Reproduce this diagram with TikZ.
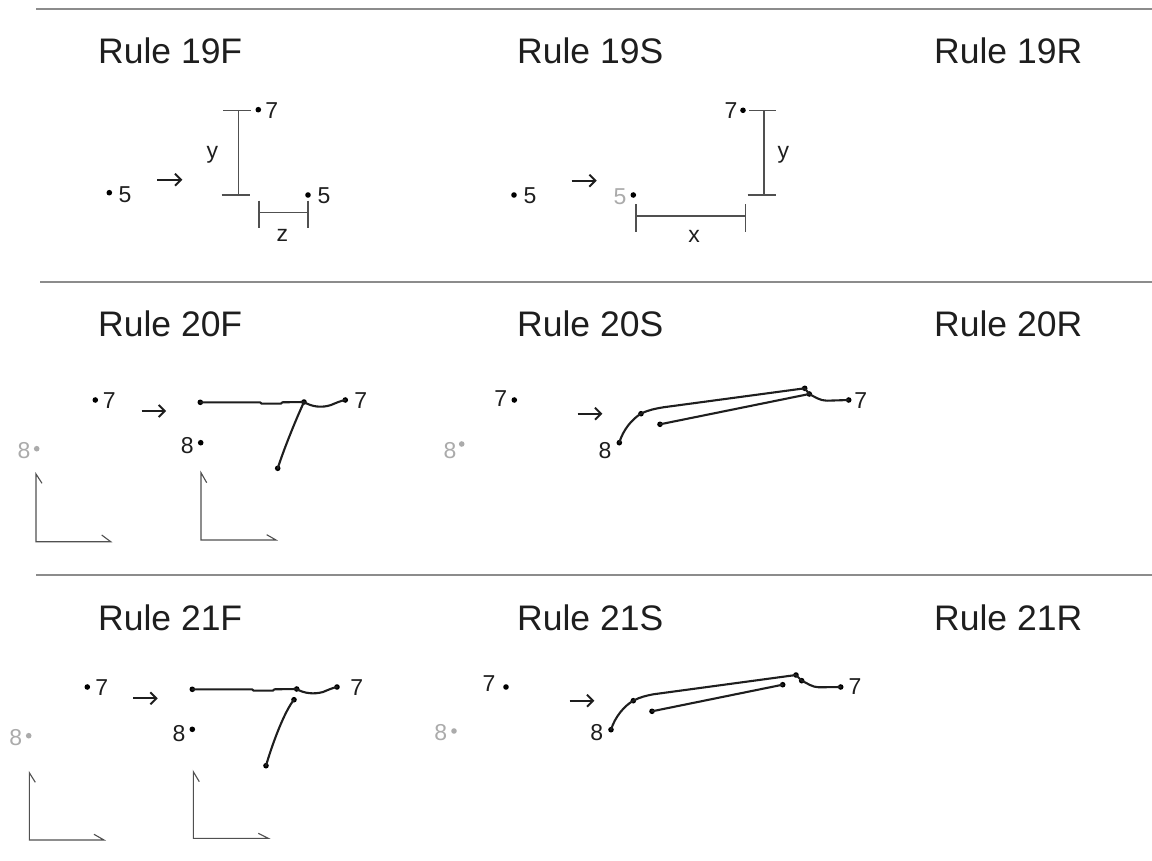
\documentclass[tikz,border=0pt]{standalone}
\usepackage{fontspec}
\setmainfont{Liberation Sans}
\usetikzlibrary{arrows.meta}
\definecolor{ink}{HTML}{1E1E1E}
\definecolor{rulegrey}{HTML}{8C8C8C}
\definecolor{thin}{HTML}{505050}
\definecolor{ghost}{HTML}{ABABAB}
\tikzset{
  title/.style={anchor=base west,inner sep=0,text=ink,font=\fontsize{35.5}{38}\selectfont},
  lab/.style={inner sep=0,text=ink,font=\fontsize{23}{25}\selectfont},
  ghostlab/.style={inner sep=0,text=ghost,font=\fontsize{23}{25}\selectfont},
  pt/.style={circle,fill=black,inner sep=0,minimum size=5.6pt},
  ghostpt/.style={circle,fill=ghost,inner sep=0,minimum size=5.6pt},
  sep/.style={draw=rulegrey,line width=1.4pt},
  bar/.style={draw=thin,line width=1.2pt},
  axis/.style={draw=thin,line width=1.1pt},
  move/.style={draw=ink,line width=1.9pt,-{Straight Barb[length=6pt,width=12pt,line width=1.9pt]}},
  stroke/.style={draw=ink,line width=2.1pt,line cap=round,line join=round},
}
\begin{document}
\begin{tikzpicture}[x=1pt,y=-1pt]
\useasboundingbox (0,0) rectangle (1152,861);
\fill[white] (0,0) rectangle (1152,861);
% separators
\coordinate (s1a) at (36,9); \coordinate (s1b) at (1152,9);
\coordinate (s2a) at (40,282); \coordinate (s2b) at (1152,282);
\coordinate (s3a) at (36,575); \coordinate (s3b) at (1152,575);
\draw[sep] (s1a) -- (s1b);
\draw[sep] (s2a) -- (s2b);
\draw[sep] (s3a) -- (s3b);
% titles
\node[title] (t19f) at (98,63.5) {Rule 19F};
\node[title] (t19s) at (517,63.5) {Rule 19S};
\node[title] (t19r) at (934,63.5) {Rule 19R};
\node[title] (t20f) at (98,336) {Rule 20F};
\node[title] (t20s) at (517,336) {Rule 20S};
\node[title] (t20r) at (934,336) {Rule 20R};
\node[title] (t21f) at (98,630) {Rule 21F};
\node[title] (t21s) at (517,630) {Rule 21S};
\node[title] (t21r) at (934,630) {Rule 21R};

% ---- Rule 19F
\node[pt] (a5d) at (109.3,192.7) {}; \node[lab] (a5) at (125,195) {5};
\coordinate (aa1) at (157.3,179.7); \coordinate (aa2) at (182.3,179.7);
\draw[move] (aa1) -- (aa2);
\coordinate (ay1a) at (223.3,110.3); \coordinate (ay1b) at (251,110.3);
\coordinate (ay2a) at (221.7,195); \coordinate (ay2b) at (250,195);
\coordinate (ayt) at (238.7,110.3); \coordinate (ayb) at (238.7,195);
\draw[bar] (ay1a) -- (ay1b);
\draw[bar] (ay2a) -- (ay2b);
\draw[bar] (ayt) -- (ayb);
\node[lab] (ay) at (212.3,155) {y};
\node[pt] (a7d) at (258.3,109.7) {}; \node[lab] (a7) at (271.7,111) {7};
\node[pt] (a5e) at (308,195) {}; \node[lab] (a5r) at (324,196) {5};
\coordinate (az1) at (259,212.7); \coordinate (az2) at (308,212.7);
\coordinate (az1t) at (259,200.7); \coordinate (az1b) at (259,228.3);
\coordinate (az2t) at (308,200.7); \coordinate (az2b) at (308,228.3);
\draw[bar] (az1) -- (az2);
\draw[bar] (az1t) -- (az1b);
\draw[bar] (az2t) -- (az2b);
\node[lab] (az) at (282.3,235) {z};

% ---- Rule 19S
\node[pt] (b5d) at (514,195) {}; \node[lab] (b5) at (530,196) {5};
\coordinate (ba1) at (571.7,180.7); \coordinate (ba2) at (596.7,180.7);
\draw[move] (ba1) -- (ba2);
\node[ghostlab] (b5g) at (620,196.7) {5}; \node[pt] (b5e) at (633.3,195) {};
\coordinate (bx1) at (636,216); \coordinate (bx2) at (745.3,216);
\coordinate (bx1t) at (636,204.3); \coordinate (bx1b) at (636,232.3);
\coordinate (bx2t) at (745.3,204.3); \coordinate (bx2b) at (745.3,232.3);
\draw[bar] (bx1) -- (bx2);
\draw[bar] (bx1t) -- (bx1b);
\draw[bar] (bx2t) -- (bx2b);
\node[lab] (bx) at (694,236) {x};
\node[lab] (b7) at (731,110.7) {7}; \node[pt] (b7d) at (743,110.3) {};
\coordinate (by1a) at (749.3,110.5); \coordinate (by1b) at (776,110.5);
\coordinate (by2a) at (747.7,195); \coordinate (by2b) at (775.7,195);
\coordinate (byt) at (764,110.5); \coordinate (byb) at (764,195);
\draw[bar] (by1a) -- (by1b);
\draw[bar] (by2a) -- (by2b);
\draw[bar] (byt) -- (byb);
\node[lab] (by) at (783.3,155) {y};

% ---- Rule 20F
\node[pt] (c7d) at (95.3,400) {}; \node[lab] (c7) at (109.3,401) {7};
\coordinate (ca1) at (141.7,411); \coordinate (ca2) at (166,411);
\draw[move] (ca1) -- (ca2);
\node[ghostlab] (c8g) at (24,450.7) {8}; \node[ghostpt] (c8gd) at (36.7,448.7) {};
\coordinate (cx1o) at (36,541.7); \coordinate (cx1t) at (36,474); \coordinate (cx1r) at (110.7,541.7);
\coordinate (cx1tb) at (42,483.3); \coordinate (cx1rb) at (101.7,535);
\draw[axis] (cx1tb) -- (cx1t) -- (cx1o) -- (cx1r) -- (cx1rb);
\coordinate (cx2o) at (201,540); \coordinate (cx2t) at (201,472.7); \coordinate (cx2r) at (276,540);
\coordinate (cx2tb) at (206.7,482.7); \coordinate (cx2rb) at (266.7,534.7);
\draw[axis] (cx2tb) -- (cx2t) -- (cx2o) -- (cx2r) -- (cx2rb);
\node[pt] (cl) at (200.3,402.3) {};
\node[pt] (cm) at (304,402) {};
\node[pt] (cr) at (345.3,400) {};
\node[pt] (cb) at (277.7,468.3) {};
\node[pt] (c8d) at (200.7,442.7) {};
\node[lab] (c8) at (187.3,446) {8};
\node[lab] (c7r) at (360.7,401) {7};
\draw[stroke] (cl.center) -- (260,402.3) -- (261.5,403.6) -- (281,403.6) -- (282.5,402.3) -- (cm.center)
  .. controls (312,407) and (322,408) .. (331,405) .. controls (336,403) and (340,401) .. (cr.center);
\draw[stroke] (cm.center) .. controls (297,417) and (285,446) .. (cb.center);

% ---- Rule 20S
\node[lab] (d7) at (500.7,398.5) {7}; \node[pt] (d7d) at (514.3,400) {};
\node[ghostlab] (d8g) at (450,451) {8}; \node[ghostpt] (d8gd) at (461.7,444) {};
\coordinate (da1) at (577.7,413.7); \coordinate (da2) at (602.3,413.7);
\draw[move] (da1) -- (da2);
\node[lab] (d8) at (605,450.7) {8};
\node[pt] (d8d) at (619.3,442.7) {};
\node[pt] (dk) at (641,413.7) {};
\node[pt] (dt) at (804.7,388.3) {};
\node[pt] (dj) at (809.3,394) {};
\node[pt] (ds) at (660,424.3) {};
\node[pt] (dr) at (848.7,400) {};
\node[lab] (d7r) at (860.7,401) {7};
\draw[stroke] (d8d.center) .. controls (623,430) and (632,419) .. (dk.center)
  .. controls (648,410) and (656,408.5) .. (663.3,407.3) -- (dt.center) -- (dj.center);
\draw[stroke] (ds.center) -- (dj.center)
  .. controls (815,397) and (820,400.7) .. (827,400.7) -- (dr.center);

% ---- Rule 21F
\node[pt] (e7d) at (87.3,687) {}; \node[lab] (e7) at (101.7,687.7) {7};
\coordinate (ea1) at (133.3,698.3); \coordinate (ea2) at (157.7,698.3);
\draw[move] (ea1) -- (ea2);
\node[ghostlab] (e8g) at (15.7,737.7) {8}; \node[ghostpt] (e8gd) at (28.7,735.7) {};
\coordinate (ex1o) at (29.3,840); \coordinate (ex1t) at (29.3,772.7); \coordinate (ex1r) at (104,840);
\coordinate (ex1tb) at (35.3,782.3); \coordinate (ex1rb) at (94,834.3);
\draw[axis] (ex1tb) -- (ex1t) -- (ex1o) -- (ex1r) -- (ex1rb);
\coordinate (ex2o) at (193.3,838.3); \coordinate (ex2t) at (193.3,771.7); \coordinate (ex2r) at (268.3,838.3);
\coordinate (ex2tb) at (199.3,781.7); \coordinate (ex2rb) at (258.3,833.3);
\draw[axis] (ex2tb) -- (ex2t) -- (ex2o) -- (ex2r) -- (ex2rb);
\node[pt] (el) at (192.3,689.3) {};
\node[pt] (em) at (296.7,689) {};
\node[pt] (er) at (337,687) {};
\node[pt] (eu) at (294,699.7) {};
\node[pt] (eb) at (266,765.7) {};
\node[pt] (e8d) at (192.3,729.3) {};
\node[lab] (e8) at (179,733.3) {8};
\node[lab] (e7r) at (356.7,687.3) {7};
\draw[stroke] (el.center) -- (252,689.3) -- (253.5,690.6) -- (273,690.6) -- (274.5,689.3) -- (em.center)
  .. controls (304,693.5) and (314,694.5) .. (323,692) .. controls (328,690) and (332,688) .. (er.center);
\draw[stroke] (eu.center) .. controls (284,712) and (272,745) .. (eb.center);

% ---- Rule 21S
\node[lab] (f7) at (489,684) {7}; \node[pt] (f7d) at (506,687) {};
\node[ghostlab] (f8g) at (440.7,732.3) {8}; \node[ghostpt] (f8gd) at (454,731) {};
\coordinate (fa1) at (569.7,700.7); \coordinate (fa2) at (594.3,700.7);
\draw[move] (fa1) -- (fa2);
\node[lab] (f8) at (596.7,732.3) {8};
\node[pt] (f8d) at (611,729.7) {};
\node[pt] (fk) at (633.3,700.7) {};
\node[pt] (ft) at (796,675) {};
\node[pt] (fj) at (801.7,680.7) {};
\node[pt] (fs) at (652,711.3) {};
\node[pt] (fe) at (782.7,684.7) {};
\node[pt] (fr) at (840.7,687) {};
\node[lab] (f7r) at (855,687) {7};
\draw[stroke] (f8d.center) .. controls (615,717) and (624,706) .. (fk.center)
  .. controls (640,697) and (647,695.5) .. (653.3,694.3) -- (ft.center) -- (fj.center)
  .. controls (807,683) and (812,687.3) .. (819,687.3) -- (fr.center);
\draw[stroke] (fs.center) -- (fe.center);
\end{tikzpicture}
\end{document}
